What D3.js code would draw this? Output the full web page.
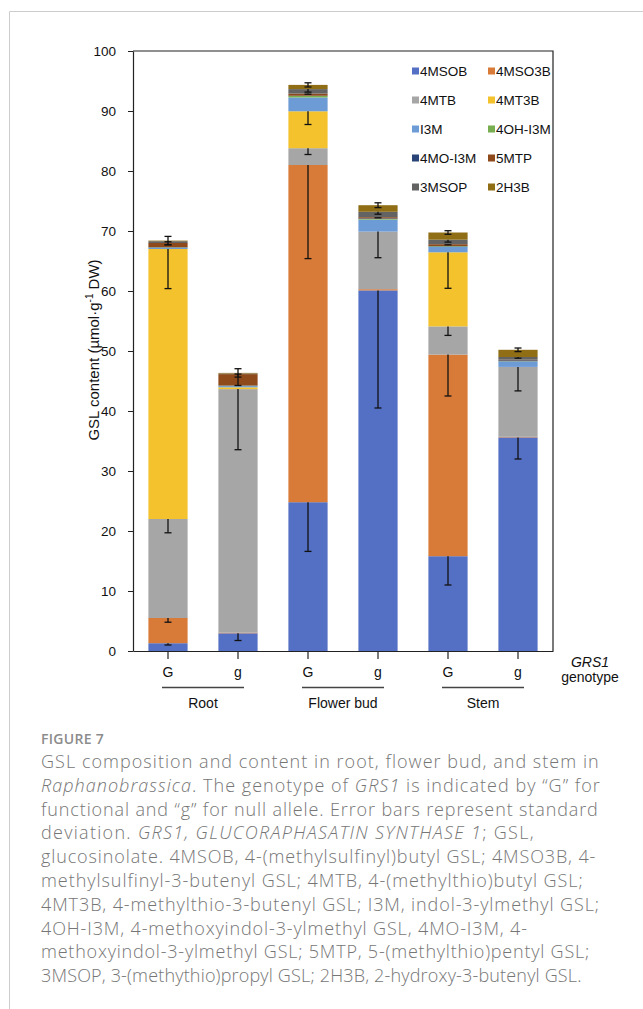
<!DOCTYPE html>
<html>
<head>
<meta charset="utf-8">
<script src="https://cdn.jsdelivr.net/npm/d3@7"></script>
<style>
  html, body { margin: 0; padding: 0; background: #fff; }
  svg { display: block; }
</style>
</head>
<body>
<svg id="fig" width="643" height="1009"></svg>
<script>
// Bars: tissue x genotype
const tissues = ["Root", "Flower bud", "Stem"];
const genotypes = ["G", "g", "G", "g", "G", "g"];
const yTicks = [0, 10, 20, 30, 40, 50, 60, 70, 80, 90, 100];

// Glucosinolate series, stacked bottom to top
const seriesNames = ["4MSOB", "4MSO3B", "4MTB", "4MT3B", "I3M", "4OH-I3M", "4MO-I3M", "5MTP", "3MSOP", "2H3B"];
const seriesColors = ["#5470c4", "#d97b38", "#a6a6a6", "#f3c22d", "#6c9bd6", "#77ae4f", "#2a4478", "#8e4a1b", "#636363", "#8f6e16"];

// Mean content (µmol·g-1 DW), one value per bar
const v4MSOB   = [1.3, 2.95, 24.8, 60.1, 15.8, 35.6];
const v4MSO3B  = [4.2, 0.1, 56.2, 0.2, 33.6, 0.1];
const v4MTB    = [16.5, 40.6, 2.8, 9.6, 4.7, 11.65];
const v4MT3B   = [45.0, 0.3, 6.15, 0.0, 12.35, 0.0];
const vI3M     = [0.2, 0.2, 2.3, 2.0, 0.9, 0.9];
const v4OHI3M  = [0.05, 0.05, 0.25, 0.1, 0.1, 0.05];
const v4MOI3M  = [0.05, 0.05, 0.05, 0.1, 0.05, 0.15];
const v5MTP    = [0.7, 1.9, 0.35, 0.2, 0.3, 0.1];
const v3MSOP   = [0.3, 0.1, 0.75, 0.9, 0.75, 0.45];
const v2H3B    = [0.1, 0.1, 0.7, 1.1, 1.2, 1.2];

// Standard deviations
const sd4MSOB  = [0.3, 1.2, 8.2, 19.6, 4.8, 3.6];
const sd4MSO3B = [0.7, 0, 15.6, 0, 6.9, 0];
const sd4MTB   = [2.3, 10.1, 1.05, 4.35, 1.5, 4.0];
const sd4MT3B  = [6.6, 0, 2.2, 0, 6.0, 0];
const sdI3M    = [0, 0, 0, 0, 0, 0];
const sd4OHI3M = [0, 0, 0, 0, 0, 0];
const sd4MOI3M = [0, 0, 0, 0, 0, 0];
const sd5MTP   = [0.3, 1.9, 0.1, 0.1, 0.1, 0];
const sd3MSOP  = [0.1, 0.1, 0.5, 0.4, 0.4, 0.2];
const sd2H3B   = [0.7, 0.7, 0.35, 0.4, 0.3, 0.3];

const values = [v4MSOB, v4MSO3B, v4MTB, v4MT3B, vI3M, v4OHI3M, v4MOI3M, v5MTP, v3MSOP, v2H3B];
const sds = [sd4MSOB, sd4MSO3B, sd4MTB, sd4MT3B, sdI3M, sd4OHI3M, sd4MOI3M, sd5MTP, sd3MSOP, sd2H3B];

// Caption lines: [text, italic] runs, with the width each line runs to
const captionLines = [
  [["GSL composition and content in root, flower bud, and stem in", false]],
  [["Raphanobrassica", true], [". The genotype of ", false], ["GRS1", true], [" is indicated by \u201cG\u201d for", false]],
  [["functional and \u201cg\u201d for null allele. Error bars represent standard", false]],
  [["deviation. ", false], ["GRS1, GLUCORAPHASATIN SYNTHASE 1", true], ["; GSL,", false]],
  [["glucosinolate. 4MSOB, 4-(methylsulfinyl)butyl GSL; 4MSO3B, 4-", false]],
  [["methylsulfinyl-3-butenyl GSL; 4MTB, 4-(methylthio)butyl GSL;", false]],
  [["4MT3B, 4-methylthio-3-butenyl GSL; I3M, indol-3-ylmethyl GSL;", false]],
  [["4OH-I3M, 4-methoxyindol-3-ylmethyl GSL, 4MO-I3M, 4-", false]],
  [["methoxyindol-3-ylmethyl GSL; 5MTP, 5-(methylthio)pentyl GSL;", false]],
  [["3MSOP, 3-(methythio)propyl GSL; 2H3B, 2-hydroxy-3-butenyl GSL.", false]]
];
const captionLineEnds = [600, 601, 599, 535, 596, 584, 600, 528, 590, 582];

const svg = d3.select("#fig");
const axisFont = "'Liberation Sans', Arial, sans-serif";

// Figure frame (top and left rules)
svg.append("path")
  .attr("d", "M9.5,1009 V11.5 H643")
  .attr("fill", "none").attr("stroke", "#cdcdcd").attr("stroke-width", 1);

const plot = { left: 133, right: 553, top: 51, bottom: 651 };

const x = d3.scaleBand()
  .domain(d3.range(genotypes.length))
  .range([plot.left, plot.right])
  .paddingInner(0.44)
  .paddingOuter(0.22);

const y = d3.scaleLinear().domain([0, 100]).range([plot.bottom, plot.top]);

// Stack
const rows = genotypes.map((g, i) => {
  const r = {};
  seriesNames.forEach((s, k) => { r[s] = values[k][i]; });
  return r;
});
const stacked = d3.stack().keys(seriesNames)(rows);

const barG = svg.append("g");
stacked.forEach((layer, k) => {
  barG.append("g").attr("fill", seriesColors[k])
    .selectAll("rect").data(layer).join("rect")
    .attr("x", (d, i) => x(i))
    .attr("width", x.bandwidth())
    .attr("y", d => y(d[1]))
    .attr("height", d => Math.max(0, y(d[0]) - y(d[1])));
});

// Error bars: minus direction from each segment top; topmost segment also plus
const errG = svg.append("g").attr("stroke", "#111").attr("stroke-width", 1.3);
const capW = 7;
stacked.forEach((layer, k) => {
  layer.forEach((d, i) => {
    const sd = sds[k][i];
    if (!sd) return;
    const cx = x(i) + x.bandwidth() / 2;
    const top = d[1];
    const isTop = k === seriesNames.length - 1;
    const lo = top - sd, hi = isTop ? top + sd : top;
    errG.append("line").attr("x1", cx).attr("x2", cx).attr("y1", y(lo)).attr("y2", y(hi));
    errG.append("line").attr("x1", cx - capW / 2).attr("x2", cx + capW / 2).attr("y1", y(lo)).attr("y2", y(lo));
    if (isTop) errG.append("line").attr("x1", cx - capW / 2).attr("x2", cx + capW / 2).attr("y1", y(hi)).attr("y2", y(hi));
  });
});

// Plot box
svg.append("path")
  .attr("d", `M${plot.left},${plot.top}H${plot.right}V${plot.bottom}`)
  .attr("fill", "none").attr("stroke", "#222").attr("stroke-width", 1.2);

// Y axis
const yAxis = svg.append("g")
  .attr("transform", `translate(${plot.left},0)`)
  .call(d3.axisLeft(y).tickValues(yTicks).tickSize(5).tickSizeOuter(0).tickPadding(12));
yAxis.select(".domain").attr("stroke", "#222").attr("stroke-width", 1.2);
yAxis.selectAll(".tick line").attr("stroke", "#222");
yAxis.selectAll("text").attr("font-family", axisFont).attr("font-size", 13.5).attr("fill", "#111");

// X axis (genotype ticks)
const xAxis = svg.append("g")
  .attr("transform", `translate(0,${plot.bottom})`)
  .call(d3.axisBottom(x).tickSize(8).tickSizeOuter(0).tickPadding(8).tickFormat(i => genotypes[i]));
xAxis.select(".domain").attr("stroke", "#222").attr("stroke-width", 1.2);
xAxis.selectAll(".tick line").attr("stroke", "#222").attr("stroke-width", 1.2);
xAxis.selectAll("text").attr("font-family", axisFont).attr("font-size", 14).attr("fill", "#111");

// Tissue group rules and labels
tissues.forEach((t, j) => {
  const c1 = x(2 * j) + x.bandwidth() / 2;
  const c2 = x(2 * j + 1) + x.bandwidth() / 2;
  const mid = (c1 + c2) / 2;
  svg.append("line")
    .attr("x1", mid - 41).attr("x2", mid + 41)
    .attr("y1", 687.5).attr("y2", 687.5)
    .attr("stroke", "#444").attr("stroke-width", 1.3);
  svg.append("text")
    .attr("x", mid).attr("y", 708)
    .attr("text-anchor", "middle")
    .attr("font-family", axisFont).attr("font-size", 14).attr("fill", "#111")
    .text(t);
});

// Genotype caption at the right of the axis
svg.append("text")
  .attr("x", 590).attr("y", 667).attr("text-anchor", "middle")
  .attr("font-family", axisFont).attr("font-size", 14).attr("font-style", "italic").attr("fill", "#111")
  .text("GRS1");
svg.append("text")
  .attr("x", 590).attr("y", 682).attr("text-anchor", "middle")
  .attr("font-family", axisFont).attr("font-size", 14).attr("fill", "#111")
  .text("genotype");

// Y axis title
const yt = svg.append("text")
  .attr("transform", "translate(99,350) rotate(-90)")
  .attr("text-anchor", "middle")
  .attr("font-family", axisFont).attr("font-size", 15).attr("fill", "#111");
yt.append("tspan").text("GSL content (\u00b5mol\u00b7g");
yt.append("tspan").attr("font-size", 10).attr("dy", -6).text("-1");
yt.append("tspan").attr("dy", 6).text(" DW)");

// Legend, two columns
const legend = svg.append("g");
seriesNames.forEach((s, k) => {
  const col = k % 2, row = Math.floor(k / 2);
  const lx = col === 0 ? 412 : 488;
  const ly = 71 + row * 29;
  legend.append("rect")
    .attr("x", lx).attr("y", ly - 3.5).attr("width", 7).attr("height", 7)
    .attr("fill", seriesColors[k]);
  legend.append("text")
    .attr("x", lx + 8).attr("y", ly + 4.5)
    .attr("font-family", axisFont).attr("font-size", 13.5).attr("fill", "#111")
    .text(s);
});

// Figure caption
svg.append("text")
  .attr("x", 41).attr("y", 744)
  .attr("font-family", "'Open Sans', sans-serif").attr("font-size", 14)
  .attr("font-weight", 600).attr("fill", "#8c8c8c").attr("letter-spacing", 0.3)
  .text("FIGURE 7");

const cap = svg.append("g")
  .attr("font-family", "'Open Sans', sans-serif").attr("font-size", 18)
  .attr("font-weight", 300).attr("fill", "#767676");
captionLines.forEach((parts, i) => {
  const t = cap.append("text").attr("x", 41).attr("y", 768 + i * 23.8);
  parts.forEach(([s, it]) => {
    const sp = t.append("tspan").text(s);
    if (it) sp.attr("font-style", "italic");
  });
  // letter spacing so each line runs to its column end
  const w = t.node().getComputedTextLength();
  const n = parts.reduce((a, p) => a + p[0].length, 0);
  const target = captionLineEnds[i] - 41;
  t.attr("letter-spacing", ((target - w) / n).toFixed(2));
});
</script>
</body>
</html>
